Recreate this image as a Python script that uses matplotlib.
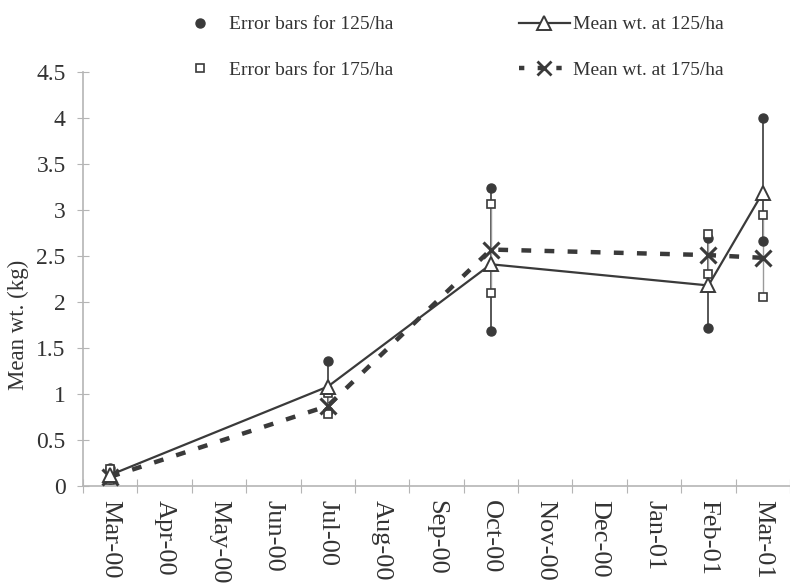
import matplotlib.pyplot as plt
from matplotlib.lines import Line2D
import numpy as np

months = ['Mar-00', 'Apr-00', 'May-00', 'Jun-00', 'Jul-00', 'Aug-00',
          'Sep-00', 'Oct-00', 'Nov-00', 'Dec-00', 'Jan-01', 'Feb-01', 'Mar-01']
sampled = ['Mar-00', 'Jul-00', 'Oct-00', 'Feb-01', 'Mar-01']

mean125 = [0.12, 1.08, 2.41, 2.18, 3.19]
hi125 = [0.20, 1.36, 3.24, 2.70, 4.00]
lo125 = [0.08, 0.82, 1.68, 1.72, 2.66]

mean175 = [0.10, 0.87, 2.57, 2.51, 2.48]
hi175 = [0.18, 1.01, 3.07, 2.74, 2.95]
lo175 = [0.06, 0.78, 2.10, 2.30, 2.05]

yticks = [0, 0.5, 1, 1.5, 2, 2.5, 3, 3.5, 4, 4.5]
ytick_labels = ['0', '0.5', '1', '1.5', '2', '2.5', '3', '3.5', '4', '4.5']

plt.rcParams['font.family'] = ['Liberation Serif', 'DejaVu Serif']
dark = '#3a3a3a'
axis_grey = '#b5b5b5'

x = np.array([months.index(m) for m in sampled])

fig = plt.figure(figsize=(7.9, 5.87), dpi=100)
ax = fig.add_axes([83/790, 1 - 486/587, 1 - 83/790, (486 - 72)/587])

# error bars
ax.vlines(x, lo125, hi125, color=dark, lw=1.2, zorder=2)
ax.vlines(x, lo175, hi175, color='#9a9a9a', lw=1.0, zorder=2)
ax.plot(x, hi125, 'o', color=dark, ms=6.5, ls='none', zorder=3)
ax.plot(x, lo125, 'o', color=dark, ms=6.5, ls='none', zorder=3)
ax.plot(x, hi175, 's', mfc='white', mec=dark, mew=1.2, ms=6, ls='none', zorder=4)
ax.plot(x, lo175, 's', mfc='white', mec=dark, mew=1.2, ms=6, ls='none', zorder=4)

# means
ax.plot(x, mean175, color=dark, lw=3.2, ls=(0, (2.2, 3.0)), marker='x',
        ms=11, mew=2.2, zorder=5)
ax.plot(x, mean125, color=dark, lw=1.6, marker='^', mfc='white', mec=dark,
        mew=1.4, ms=10, zorder=6)

ax.set_xlim(-0.5, 12.45)
ax.set_ylim(0, 4.5)

for s in ['top', 'right']:
    ax.spines[s].set_visible(False)
for s in ['left', 'bottom']:
    ax.spines[s].set_color(axis_grey)
    ax.spines[s].set_linewidth(1.2)

ax.set_yticks(yticks)
ax.set_yticklabels(ytick_labels)
ax.tick_params(axis='y', direction='inout', length=9, color=axis_grey,
               labelsize=17, labelcolor='#333333', pad=8)

ax.set_xticks(np.arange(-0.5, 13, 1))
ax.set_xticklabels([])
ax.set_xticks(np.arange(len(months)), minor=True)
ax.set_xticklabels(months, minor=True, rotation=270, fontsize=19,
                   color='#333333', va='top', ha='center')
ax.tick_params(axis='x', which='major', direction='inout', length=10,
               color=axis_grey)
ax.tick_params(axis='x', which='minor', length=0, pad=10)

ax.set_ylabel('Mean wt. (kg)', fontsize=16.5, color='#333333')
ax.yaxis.set_label_coords(-0.076, 0.39)

# legend
h1 = Line2D([], [], ls='none', marker='o', color=dark, ms=6.5)
h2 = Line2D([], [], ls='none', marker='s', mfc='white', mec=dark, mew=1.2, ms=6)
h3 = Line2D([], [], color=dark, lw=1.6, marker='^', mfc='white', mec=dark,
            mew=1.4, ms=10)
h4 = Line2D([], [], color=dark, lw=3.2, ls=(0, (1.2, 3.0)), marker='x',
            ms=10, mew=2.0)

leg_kw = dict(frameon=False, fontsize=14, handlelength=2.6, handletextpad=0.2,
              labelspacing=1.45, borderpad=0, borderaxespad=0,
              labelcolor='#333333', loc='center left')
fig.legend([h1, h2], ['Error bars for 125/ha', 'Error bars for 175/ha'],
           bbox_to_anchor=(175/790, 1 - 47.5/587), **leg_kw)
fig.legend([h3, h4], ['Mean wt. at 125/ha', 'Mean wt. at 175/ha'],
           bbox_to_anchor=(519/790, 1 - 47.5/587), **leg_kw)

fig.savefig('out.png', dpi=100)
